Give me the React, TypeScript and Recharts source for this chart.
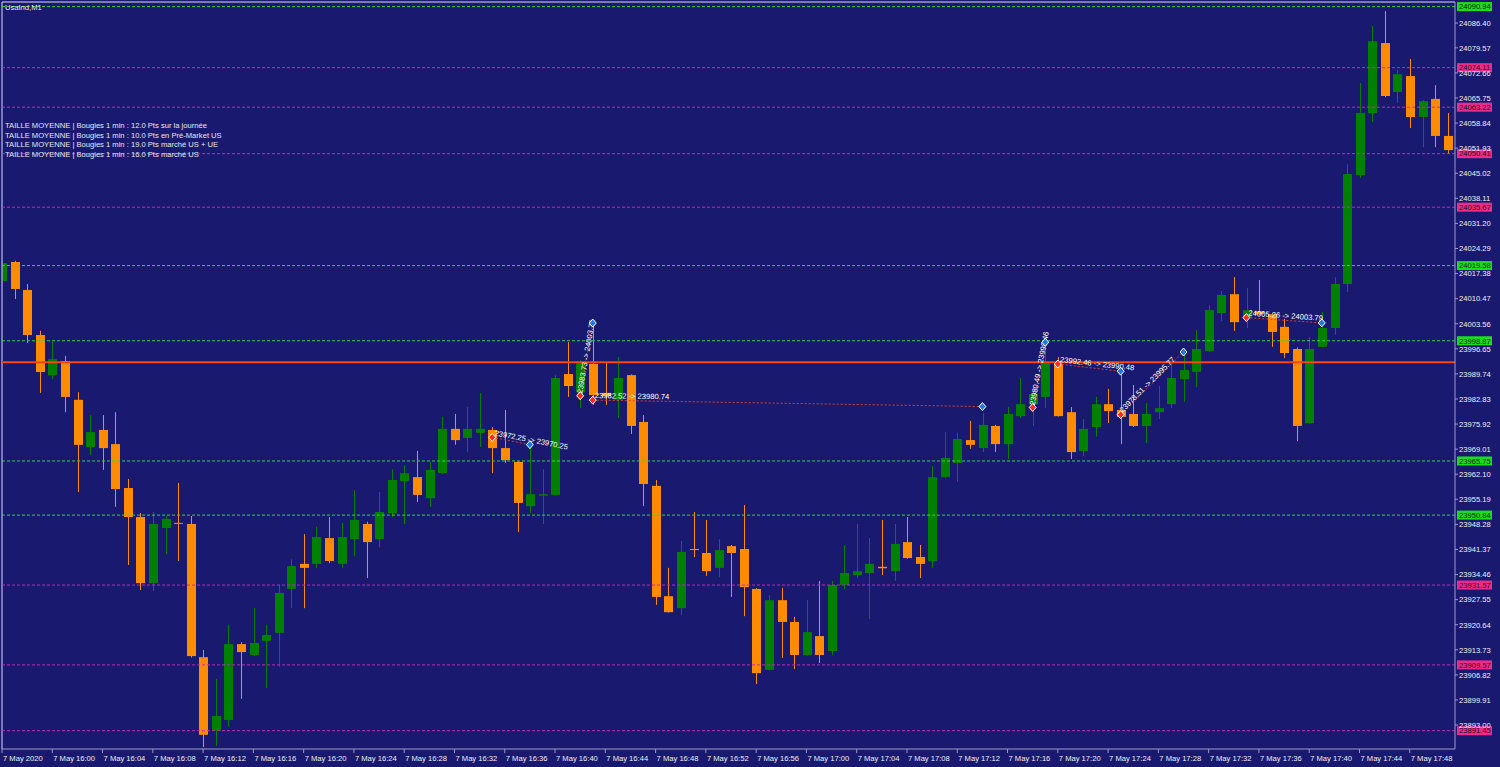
import React from "react";
import { ComposedChart, Bar, XAxis, YAxis, ReferenceLine } from "recharts";

const BG = "#191970";
const FRAME = "#9c9cc8";
const BULL = "#008000";
const BEAR = "#ff8c00";
const FONT = '"Liberation Sans", Arial, sans-serif';
const FS = 7.6;

// one-minute candles, 15:56 -> 17:51
const opens = [
  24015.33, 24020.57, 24012.85, 24000.45, 23989.4, 23993.3, 23982.6, 23969.6, 23974.3, 23970.4,
  23958.3, 23950.3, 23932.1, 23947.3, 23948.7, 23948.4, 23911.7, 23891.4, 23894.4, 23915.3,
  23912.3, 23916.2, 23918.4, 23930.5, 23937.4, 23937.4, 23944.5, 23937.4, 23944.2, 23948.4,
  23944.2, 23951.4, 23960.2, 23961.3, 23955.5, 23962.4, 23974.6, 23972.1, 23973.5, 23974.3,
  23969.3, 23965.5, 23953.3, 23956.2, 23956.4, 23989.7, 23984.7, 23992.5, 23984.5, 23982.6,
  23989.4, 23976.5, 23958.9, 23928.5, 23925.2, 23941.5, 23940.4, 23936.3, 23942.3, 23941.5,
  23930.5, 23908.2, 23927.4, 23921.4, 23912.3, 23917.5, 23913.4, 23931.6, 23934.3, 23934.9,
  23936.6, 23935.4, 23943.4, 23939.3, 23938.2, 23961.3, 23965.2, 23971.5, 23969.3, 23975.4,
  23970.4, 23978.1, 23981.4, 23983.4, 23992.5, 23979.2, 23968.5, 23975.1, 23981.4, 23979.8,
  23978.7, 23975.4, 23979.2, 23981.4, 23988.3, 23990.3, 23996.0, 24006.5, 24011.7, 24005.4,
  24007.0, 24006.2, 24002.7, 23996.6, 23976.2, 23997.2, 24002.4, 24014.5, 24044.5, 24061.6,
  24080.9, 24067.4, 24071.8, 24060.5, 24065.5, 24055.3,
];
const highs = [
  24020.8, 24020.9, 24014.5, 24001.6, 23998.5, 23994.7, 23984.7, 23978.4, 23978.4, 23979.2,
  23960.8, 23951.4, 23951.7, 23950.6, 23959.7, 23950.6, 23913.7, 23905.7, 23920.6, 23915.8,
  23925.2, 23920.6, 23931.6, 23938.7, 23945.6, 23947.6, 23950.3, 23948.7, 23957.7, 23949.0,
  23957.2, 23963.5, 23964.6, 23968.5, 23965.5, 23977.9, 23978.7, 23980.6, 23984.5, 23975.1,
  23979.8, 23965.7, 23969.3, 23963.5, 23989.4, 23998.5, 23993.5, 24002.9, 23992.7, 23994.4,
  23989.6, 23978.4, 23960.5, 23936.3, 23943.7, 23951.7, 23949.5, 23944.2, 23942.6, 23953.6,
  23930.7, 23928.8, 23930.8, 23922.8, 23927.4, 23932.7, 23932.7, 23942.6, 23948.4, 23944.5,
  23949.5, 23948.4, 23950.3, 23942.6, 23964.4, 23973.7, 23973.5, 23976.8, 23979.0, 23975.7,
  23980.6, 23988.6, 23985.3, 23997.2, 23994.4, 23980.6, 23977.3, 23983.4, 23985.6, 23989.4,
  23986.7, 23981.7, 23986.4, 23992.5, 23995.5, 24001.8, 24008.7, 24012.6, 24016.4, 24013.4,
  24015.6, 24006.5, 24004.9, 23997.0, 23999.9, 24006.8, 24016.4, 24047.5, 24069.9, 24085.6,
  24089.7, 24073.5, 24076.5, 24065.2, 24069.3, 24061.6,
];
const lows = [
  24015.0, 24010.37, 23998.25, 23984.5, 23988.3, 23979.2, 23957.2, 23967.4, 23963.3, 23953.1,
  23937.1, 23930.2, 23929.9, 23940.1, 23938.2, 23911.6, 23886.9, 23887.2, 23892.5, 23900.2,
  23912.0, 23903.2, 23909.0, 23925.2, 23925.2, 23936.3, 23937.6, 23936.3, 23939.6, 23933.5,
  23942.0, 23950.3, 23948.4, 23954.4, 23953.1, 23962.2, 23970.2, 23968.2, 23969.6, 23962.4,
  23965.2, 23946.2, 23951.4, 23948.4, 23956.2, 23983.4, 23980.3, 23981.2, 23981.2, 23977.6,
  23973.2, 23953.3, 23926.1, 23924.0, 23923.3, 23939.3, 23934.1, 23933.8, 23928.3, 23923.0,
  23904.3, 23908.0, 23911.5, 23908.4, 23912.0, 23910.1, 23912.3, 23930.5, 23933.5, 23922.2,
  23934.3, 23932.7, 23938.8, 23933.5, 23936.3, 23961.0, 23960.0, 23969.1, 23968.2, 23968.2,
  23966.3, 23977.6, 23975.4, 23980.3, 23978.0, 23966.3, 23967.1, 23972.4, 23976.2, 23970.4,
  23975.1, 23970.7, 23977.3, 23980.3, 23982.0, 23986.1, 23995.8, 24004.3, 24001.6, 24002.4,
  24006.0, 23997.2, 23994.1, 23971.2, 23976.0, 23997.0, 24000.5, 24012.3, 24043.7, 24059.1,
  24066.0, 24064.4, 24057.5, 24052.2, 24052.2, 24050.3,
];
const closes = [
  24020.29, 24013.13, 24000.45, 23990.26, 23993.8, 23983.4, 23970.2, 23973.7, 23969.3, 23958.0,
  23950.3, 23932.1, 23948.4, 23949.8, 23948.5, 23912.0, 23890.3, 23895.5, 23915.3, 23913.1,
  23915.6, 23917.8, 23929.4, 23936.8, 23936.3, 23944.8, 23938.2, 23944.8, 23949.5, 23943.4,
  23951.7, 23960.5, 23962.4, 23956.4, 23963.3, 23974.6, 23971.5, 23974.6, 23974.6, 23969.3,
  23966.0, 23954.2, 23956.6, 23956.6, 23988.6, 23986.4, 23992.7, 23983.9, 23983.6, 23988.6,
  23975.4, 23959.4, 23928.3, 23924.1, 23940.7, 23941.2, 23935.4, 23941.2, 23940.4, 23931.0,
  23907.3, 23927.4, 23921.4, 23912.3, 23918.6, 23912.3, 23931.6, 23934.9, 23935.4, 23937.4,
  23936.2, 23942.9, 23939.0, 23937.4, 23961.3, 23966.6, 23971.8, 23970.2, 23975.7, 23970.4,
  23978.7, 23981.4, 23984.2, 23992.7, 23978.1, 23968.2, 23974.6, 23981.4, 23979.5, 23977.9,
  23975.4, 23978.7, 23980.3, 23988.6, 23990.8, 23996.6, 24007.3, 24011.5, 24004.0, 24007.3,
  24006.2, 24001.3, 23995.5, 23975.4, 23996.6, 24002.4, 24014.5, 24044.8, 24061.6, 24081.4,
  24066.3, 24072.3, 24060.5, 24064.9, 24055.3, 24051.4,
];

const xTicks = [0, 4, 8, 12, 16, 20, 24, 28, 32, 36, 40, 44, 48, 52, 56, 60, 64, 68, 72, 76, 80, 84, 88, 92, 96, 100, 104, 108, 112];
const xTickLabels = [
  "7 May 2020", "7 May 16:00", "7 May 16:04", "7 May 16:08", "7 May 16:12", "7 May 16:16",
  "7 May 16:20", "7 May 16:24", "7 May 16:28", "7 May 16:32", "7 May 16:36", "7 May 16:40",
  "7 May 16:44", "7 May 16:48", "7 May 16:52", "7 May 16:56", "7 May 17:00", "7 May 17:04",
  "7 May 17:08", "7 May 17:12", "7 May 17:16", "7 May 17:20", "7 May 17:24", "7 May 17:28",
  "7 May 17:32", "7 May 17:36", "7 May 17:40", "7 May 17:44", "7 May 17:48",
];
const yTicks = [
  24086.4, 24079.57, 24072.66, 24065.75, 24058.84, 24051.93, 24045.02, 24038.11, 24031.2,
  24024.29, 24017.38, 24010.47, 24003.56, 23996.65, 23989.74, 23982.83, 23975.92, 23969.01,
  23962.1, 23955.19, 23948.28, 23941.37, 23934.46, 23927.55, 23920.64, 23913.73, 23906.82,
  23899.91, 23893.0,
];

const greenLevels = [24090.94, 24019.58, 23998.87, 23965.75, 23950.84];
const pinkLevels = [24074.11, 24063.22, 24050.41, 24035.67, 23931.57, 23909.57, 23891.45];
const pivotLevel = 23992.93;

const trades = [
  { from: 39, open: 23972.25, to: 42, close: 23970.25, text: "23972.25 -> 23970.25" },
  { from: 46, open: 23983.73, to: 47, close: 24003.75, text: "23983.73 -> 24003.75" },
  { from: 47, open: 23982.52, to: 78, close: 23980.74, text: "23982.52 -> 23980.74" },
  { from: 82, open: 23980.49, to: 83, close: 23998.46, text: "23980.49 -> 23998.46" },
  { from: 84, open: 23992.46, to: 89, close: 23990.48, text: "23992.46 -> 23990.48" },
  { from: 89, open: 23978.51, to: 94, close: 23995.77, text: "23978.51 -> 23995.77" },
  { from: 99, open: 24005.26, to: 105, close: 24003.79, text: "24005.26 -> 24003.79" },
];

const infoLines = [
  "TAILLE MOYENNE | Bougies 1 min : 12.0 Pts sur la journée",
  "TAILLE MOYENNE | Bougies 1 min : 10.0 Pts en Pré-Market US",
  "TAILLE MOYENNE | Bougies 1 min : 19.0 Pts marché US + UE",
  "TAILLE MOYENNE | Bougies 1 min : 16.0 Pts marché US",
];

const Y_MIN = 23886.4;
const Y_MAX = 24092.2;

const rows = opens.map((o, i) => ({
  i,
  open: o,
  high: highs[i],
  low: lows[i],
  close: closes[i],
  range: [lows[i], highs[i]],
}));

function Candle(props: any) {
  const { x, y, width, height, payload } = props;
  if (x == null || !payload) return null;
  const { open, close, high, low } = payload;
  const top = Math.min(y, y + height);
  const h = Math.abs(height);
  const span = high - low || 1;
  const py = (p: number) => top + ((high - p) / span) * h;
  const color = close >= open ? BULL : BEAR;
  const cx = Math.round(x + width / 2) + 0.5;
  const b1 = py(Math.max(open, close));
  const b2 = py(Math.min(open, close));
  return (
    <g>
      <line x1={cx} x2={cx} y1={top} y2={top + h} stroke={color} strokeWidth={1} />
      <rect x={cx - width / 2} y={b1} width={width} height={Math.max(1, b2 - b1)} fill={color} />
    </g>
  );
}

function XTick(props: any) {
  const { x, y, payload } = props;
  const label = xTickLabels[xTicks.indexOf(payload.value)];
  return (
    <text x={x + 1} y={y + 6} fill="#f0f0f0" fontSize={FS} fontFamily={FONT}>
      {label}
    </text>
  );
}

function YTick(props: any) {
  const { x, y, payload } = props;
  return (
    <text x={x} y={y} dy={2.8} fill="#f0f0f0" fontSize={FS} fontFamily={FONT} textAnchor="start">
      {Number(payload.value).toFixed(2)}
    </text>
  );
}

function levelTag(value: number, fill: string) {
  return (p: any) => {
    const vb = p.viewBox || {};
    const x = (vb.x || 0) + (vb.width || 0) + 2;
    const y = vb.y || 0;
    return (
      <g>
        <rect x={x} y={y - 4.5} width={35} height={9} fill={fill} />
        <text x={x + 2} y={y + 2.8} fill="#111" fontSize={FS} fontFamily={FONT}>
          {value.toFixed(2)}
        </text>
      </g>
    );
  };
}

function tradeLabel(t: { open: number; close: number; text: string }) {
  return (p: any) => {
    const vb = p.viewBox || {};
    const x0 = vb.x || 0;
    const w = vb.width || 0;
    const up = t.close > t.open;
    const oy = up ? (vb.y || 0) + (vb.height || 0) : vb.y || 0;
    const cy = up ? vb.y || 0 : (vb.y || 0) + (vb.height || 0);
    const cx = x0 + w;
    const ang = (Math.atan2(cy - oy, w) * 180) / Math.PI;
    const diamond = (px: number, py: number, fill: string) => (
      <path
        d={`M${px},${py - 4}L${px + 3.5},${py}L${px},${py + 4}L${px - 3.5},${py}Z`}
        fill={fill}
        stroke="#ffffff"
        strokeWidth={1}
      />
    );
    return (
      <g>
        <text
          transform={`translate(${x0 + 2},${oy - 2}) rotate(${ang})`}
          fill="#ffffff"
          fontSize={FS}
          fontFamily={FONT}
        >
          {t.text}
        </text>
        {diamond(x0, oy, "#ff2a1a")}
        {diamond(cx, cy, "#1e78e6")}
      </g>
    );
  };
}

export default function App() {
  return (
    <div
      style={{
        position: "absolute",
        left: 0,
        top: 0,
        width: 1500,
        height: 767,
        background: BG,
        overflow: "hidden",
        fontFamily: FONT,
      }}
    >
      <ComposedChart width={1500} height={767} data={rows} margin={{ top: 2, right: 0, bottom: 0, left: 2 }}>
        <XAxis
          dataKey="i"
          type="number"
          domain={[0, 115.6]}
          allowDataOverflow
          ticks={xTicks}
          interval={0}
          tick={<XTick />}
          tickSize={4}
          tickLine={{ stroke: FRAME }}
          axisLine={{ stroke: FRAME }}
          height={18}
        />
        <YAxis
          orientation="right"
          type="number"
          domain={[Y_MIN, Y_MAX]}
          allowDataOverflow
          ticks={yTicks}
          interval={0}
          tick={<YTick />}
          tickSize={3}
          tickMargin={1}
          tickLine={{ stroke: FRAME }}
          axisLine={{ stroke: FRAME }}
          width={45}
        />
        <ReferenceLine y={Y_MAX} stroke={FRAME} strokeWidth={1.5} />
        <ReferenceLine x={0} stroke={FRAME} strokeWidth={1.5} />
        <Bar dataKey="range" shape={<Candle />} barSize={9} isAnimationActive={false} />
        {greenLevels.map((v) => (
          <ReferenceLine
            key={"g" + v}
            y={v}
            stroke="#2fd82f"
            strokeDasharray="3 2"
            label={levelTag(v, "#18e018")}
          />
        ))}
        {pinkLevels.map((v) => (
          <ReferenceLine
            key={"p" + v}
            y={v}
            stroke="#c42ab4"
            strokeDasharray="3 2"
            label={levelTag(v, "#ee2a8c")}
          />
        ))}
        <ReferenceLine y={pivotLevel} stroke="#ff4500" strokeWidth={2} />
        {trades.map((t, k) => (
          <ReferenceLine
            key={"t" + k}
            segment={[
              { x: t.from, y: t.open },
              { x: t.to, y: t.close },
            ]}
            stroke="#d8402c"
            strokeDasharray="2 2"
            label={tradeLabel(t)}
          />
        ))}
      </ComposedChart>
      <div
        style={{
          position: "absolute",
          left: 5,
          top: 3,
          color: "#e8e8e8",
          fontSize: FS,
          lineHeight: "9px",
          pointerEvents: "none",
        }}
      >
        UsaInd,M1
      </div>
      {infoLines.map((s, k) => (
        <div
          key={k}
          style={{
            position: "absolute",
            left: 5,
            top: 121 + k * 9.5,
            color: "#e8e8e8",
            fontSize: FS,
            lineHeight: "9px",
            whiteSpace: "nowrap",
            pointerEvents: "none",
          }}
        >
          {s}
        </div>
      ))}
    </div>
  );
}
